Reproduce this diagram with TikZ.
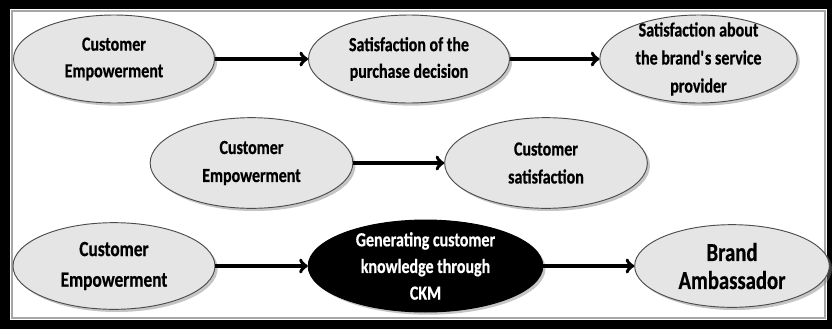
\documentclass[tikz,border=0pt]{standalone}
\usepackage{fontspec}
\setmainfont{Carlito}[FakeStretch=0.8,BoldFeatures={FakeBold=0.6}]
\usepackage{tikz}
\usetikzlibrary{shapes,shadows,arrows}
\definecolor{light-gray}{gray}{0.9}

\tikzset{
	bubble/.style={ellipse,fill=light-gray,draw=black!70,line width=0.7pt,
		inner sep=0pt,align=center,font=\bfseries\fontsize{15}{20}\selectfont,
		drop shadow={shadow xshift=2pt,shadow yshift=-2pt,opacity=0.45}},
	darkbubble/.style={bubble,fill=black,draw=black,text=white},
	flow/.style={arrows=->,line width=2.8pt}
}

\begin{document}
\begin{tikzpicture}[x=0.75pt,y=-0.75pt]
	\useasboundingbox (0,0) rectangle (832,329);
	% frame
	\fill[black] (0,0) rectangle (832,329);
	\fill[white] (10,9) rectangle (827,320);
	\draw[black!35,line width=1pt] (12,11) rectangle (825,318);
	
	% first row
	\node[bubble,minimum width=150.75pt,minimum height=66pt] (empA) at (114,59) {Customer\\Empowerment};
	\node[bubble,minimum width=150.75pt,minimum height=66pt] (purchase) at (409,59) {Satisfaction of the\\purchase decision};
	\node[bubble,minimum width=148pt,minimum height=66pt,inner ysep=-6pt,
		font=\bfseries\fontsize{15}{21}\selectfont] (provider) at (698.5,59) {Satisfaction about\\the brand\textquotesingle s service\\provider};
	
	% second row
	\node[bubble,minimum width=152pt,minimum height=68pt,font=\bfseries\fontsize{15}{21}\selectfont] (empB) at (251.5,163) {Customer\\Empowerment};
	\node[bubble,minimum width=152pt,minimum height=68pt,font=\bfseries\fontsize{15}{21}\selectfont] (satis) at (546,163) {Customer\\satisfaction};
	
	% third row
	\node[bubble,minimum width=151.5pt,minimum height=65pt,font=\bfseries\fontsize{16.25}{23}\selectfont] (empC) at (114,266) {Customer\\Empowerment};
	\node[darkbubble,minimum width=176pt,minimum height=69pt,inner ysep=-6pt,
		font=\bfseries\fontsize{15}{20}\selectfont] (ckm) at (425.5,266) {Generating customer\\knowledge through\\CKM};
	\node[bubble,minimum width=146pt,minimum height=62pt,font=\bfseries\fontsize{19.4}{21}\selectfont] (ambassador) at (732,266) {Brand\\Ambassador};
	
	% arrows
	\draw[flow] (empA) -- (purchase);
	\draw[flow] (purchase) -- (provider);
	\draw[flow] (empB) -- (satis);
	\draw[flow] (empC) -- (ckm);
	\draw[flow] (ckm) -- (ambassador);
\end{tikzpicture}
\end{document}
